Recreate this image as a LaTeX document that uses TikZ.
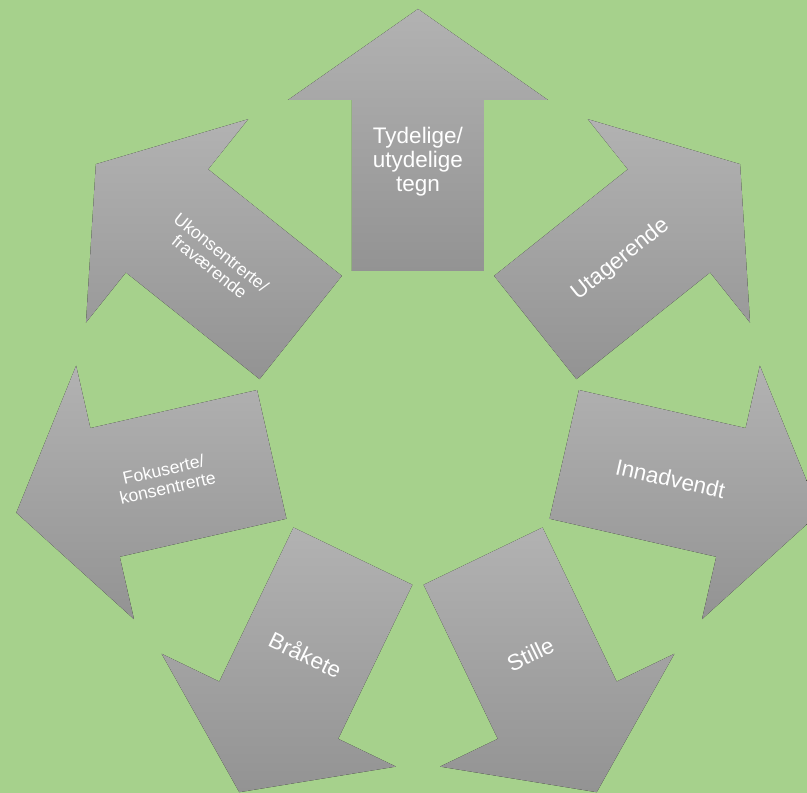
\documentclass[tikz,border=0pt]{standalone}
\usepackage{fontspec}
\setmainfont{Liberation Sans}
\usetikzlibrary{calc}
\usepackage{xcolor}
\definecolor{bggreen}{HTML}{A6D18C}
\definecolor{arrowtop}{HTML}{B2B2B2}
\definecolor{arrowbot}{HTML}{939393}

\begin{document}
\begin{tikzpicture}
[arrowfill/.style={top color=arrowtop,bottom color=arrowbot,draw=none},
 biglabel/.style={text=white,align=center,inner sep=0pt,font=\fontsize{6.4}{6.8}\selectfont},
 smalllabel/.style={biglabel,font=\fontsize{5}{5.3}\selectfont},]

%Arrow sizes
\def\ra{1.5}
\def\rb{3.21}
\def\rc{4.12}
\def\sw{0.66}
\def\hw{1.30}
\def\rt{2.59}

%Background
\fill[bggreen] (0,0) rectangle (8.07,7.93);
\useasboundingbox (0,0) rectangle (8.07,7.93);
\coordinate (O) at (4.18,3.72);

%One arrow pointing at angle #1
\def\outarrow#1{\fill[arrowfill] ($(O)+(#1:\ra)+(#1-90:\sw)$) -- ($(O)+(#1:\rb)+(#1-90:\sw)$)
  -- ($(O)+(#1:\rb)+(#1-90:\hw)$) -- ($(O)+(#1:\rc)$) -- ($(O)+(#1:\rb)+(#1+90:\hw)$)
  -- ($(O)+(#1:\rb)+(#1+90:\sw)$) -- ($(O)+(#1:\ra)+(#1+90:\sw)$) -- cycle;}

%Drawing the seven arrows
\outarrow{90}
\outarrow{38.57}
\outarrow{-12.86}
\outarrow{-64.29}
\outarrow{-115.71}
\outarrow{-167.14}
\outarrow{141.43}

%Labels
\node (tegn) at ($(O)+(90:\rt)$) [biglabel] {Tydelige/\\utydelige\\tegn};
\node (utagerende) at ($(O)+(38.57:\rt)$) [biglabel,rotate=38.57] {Utagerende};
\node (innadvendt) at ($(O)+(-12.86:\rt)$) [biglabel,rotate=-12.86] {Innadvendt};
\node (stille) at ($(O)+(-64.29:\rt)$) [biglabel,rotate=25.71] {Stille};
\node (braakete) at ($(O)+(-115.71:\rt)$) [biglabel,rotate=-25.71] {Bråkete};
\node (fokuserte) at ($(O)+(-167.14:\rt)$) [smalllabel,rotate=12.86] {Fokuserte/\\konsentrerte};
\node (ukonsentrerte) at ($(O)+(141.43:\rt)$) [smalllabel,rotate=-38.57] {Ukonsentrerte/\\fraværende};

\end{tikzpicture}
\end{document}
